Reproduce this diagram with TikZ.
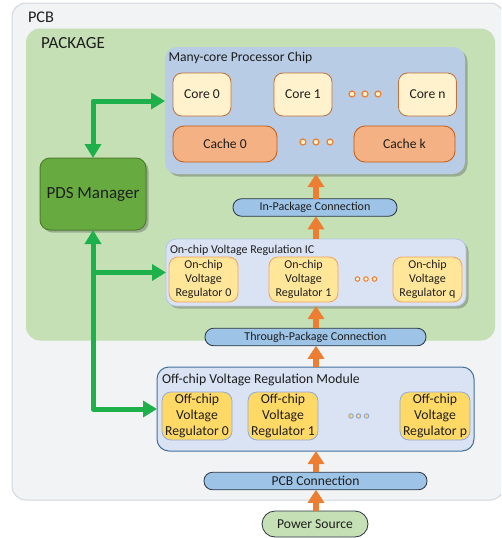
\documentclass[tikz,border=0pt]{standalone}
\usepackage{fontspec}
\setmainfont{Carlito}
\usetikzlibrary{arrows.meta,shadows}
\definecolor{pcbfill}{HTML}{F2F3F5}
\definecolor{pcbdraw}{HTML}{D3D6DB}
\definecolor{pkgfill}{HTML}{C5E0B4}
\definecolor{chipfill}{HTML}{B8CCE6}
\definecolor{corefill}{HTML}{FFF2CC}
\definecolor{coredraw}{HTML}{C0703A}
\definecolor{cachefill}{HTML}{F4B183}
\definecolor{cachedraw}{HTML}{C55A11}
\definecolor{pillfill}{HTML}{9DC3E6}
\definecolor{pilldraw}{HTML}{2B3440}
\definecolor{icfill}{HTML}{DAE3F3}
\definecolor{icdraw}{HTML}{B4C7E7}
\definecolor{vrfill}{HTML}{FFE699}
\definecolor{vrdraw}{HTML}{F4A15A}
\definecolor{moddraw}{HTML}{41719C}
\definecolor{ovrfill}{HTML}{FFD966}
\definecolor{ovrdraw}{HTML}{8FAADC}
\definecolor{pdsfill}{HTML}{66AA40}
\definecolor{pdsdraw}{HTML}{4E7F31}
\definecolor{garrowc}{HTML}{1EB04A}
\definecolor{oarrowc}{HTML}{ED7D31}
\definecolor{txt}{HTML}{1E1E1E}
\begin{document}
\begin{tikzpicture}[x=1pt,y=-1pt,
  every node/.style={inner sep=0pt,outer sep=0pt,text=txt},
  box/.style={rectangle,rounded corners=#1},
  box/.default=8pt,
  shad/.style={drop shadow={shadow xshift=2.5pt,shadow yshift=-2.5pt,opacity=0.35,fill=black!70}},
  corebox/.style={box=9pt,fill=corefill,draw=coredraw,line width=0.8pt,minimum width=58pt,minimum height=43pt,font=\fontsize{13.6}{16}\selectfont},
  cachebox/.style={box=11pt,fill=cachefill,draw=cachedraw,line width=0.8pt,minimum height=36pt,font=\fontsize{13.6}{16}\selectfont},
  pill/.style={box=8.5pt,fill=pillfill,draw=pilldraw,line width=0.8pt,minimum height=17.5pt},
  vrbox/.style={box=9pt,fill=vrfill,draw=vrdraw,line width=0.8pt,minimum width=69pt,minimum height=45pt,align=center,font=\fontsize{12}{14}\selectfont},
  ovrbox/.style={box=9pt,fill=ovrfill,draw=ovrdraw,line width=0.8pt,minimum width=70pt,minimum height=48pt,align=center,font=\fontsize{13.7}{16}\selectfont},
  title/.style={anchor=west,font=\fontsize{13.6}{16}\selectfont},
  cdot/.style={circle,fill=corefill,draw=oarrowc,line width=1.2pt,minimum size=6pt},
  odot/.style={circle,fill=ovrfill,draw=ovrdraw,line width=1pt,minimum size=4.5pt},
  garrow/.style={draw=garrowc,line width=5pt,line join=round,{Triangle[width=16pt,length=14pt]}-{Triangle[width=16pt,length=14pt]}},
  garrowone/.style={draw=garrowc,line width=5pt,line join=round,-{Triangle[width=16pt,length=14pt]}},
  oarrow/.style={draw=oarrowc,line width=5.5pt,-{Triangle[width=16pt,length=13pt]}}
]
\useasboundingbox (0,0) rectangle (501,538);
\clip (0,0) rectangle (501,538);
% PCB
\node[box=14pt,fill=pcbfill,draw=pcbdraw,line width=1pt,minimum width=492pt,minimum height=497pt] (pcb) at (258,251.5) {};
\node[anchor=west,font=\fontsize{16.3}{19}\selectfont] (pcblabel) at (28,17) {PCB};
% Package
\node[box=14pt,fill=pkgfill,minimum width=469pt,minimum height=312pt] (pkg) at (260.5,184.5) {};
\node[anchor=west,font=\fontsize{17}{20}\selectfont] (pkglabel) at (41,43) {PACKAGE};
% Chip
\node[box=12pt,fill=chipfill,shad,minimum width=300pt,minimum height=127pt] (chip) at (315,110.5) {};
\node[title] (chiptitle) at (168.5,58) {Many-core Processor Chip};
\node[corebox] (core0) at (202,94.5) {Core 0};
\node[corebox] (core1) at (303,94.5) {Core 1};
\node[corebox] (coren) at (427.5,94.5) {Core n};
\node[cdot] (cd1) at (352,94) {};
\node[cdot] (cd2) at (365,94) {};
\node[cdot] (cd3) at (378,94) {};
\node[cachebox,minimum width=104pt] (cache0) at (225,144) {Cache 0};
\node[cachebox,minimum width=101pt] (cachek) at (404.5,144) {Cache k};
\node[cdot] (kd1) at (303,142) {};
\node[cdot] (kd2) at (316,142) {};
\node[cdot] (kd3) at (330,142) {};
% In-package connection
\node[pill,minimum width=164pt,font=\fontsize{12}{14}\selectfont] (inpkg) at (315,207.5) {In-Package Connection};
% On-chip IC
\node[box=10pt,fill=icfill,draw=icdraw,line width=0.8pt,shad,minimum width=300pt,minimum height=67pt] (ic) at (316,272.5) {};
\node[anchor=west,font=\fontsize{12}{14}\selectfont] (ictitle) at (170,250) {On-chip Voltage Regulation IC};
\node[vrbox] (vr0) at (203.5,279.5) {On-chip\\Voltage\\Regulator 0};
\node[vrbox] (vr1) at (303.5,279.5) {On-chip\\Voltage\\Regulator 1};
\node[vrbox] (vrq) at (427.5,279.5) {On-chip\\Voltage\\Regulator q};
\node[cdot,minimum size=4.5pt,line width=1pt] (vd1) at (357.5,279) {};
\node[cdot,minimum size=4.5pt,line width=1pt] (vd2) at (366,279) {};
\node[cdot,minimum size=4.5pt,line width=1pt] (vd3) at (374.5,279) {};
% Through-package connection
\node[pill,minimum width=221pt,font=\fontsize{12}{14}\selectfont] (thru) at (315.5,337) {Through-Package Connection};
% Off-chip module
\node[box=12pt,fill=icfill,draw=moddraw,line width=1pt,minimum width=317pt,minimum height=84pt] (module) at (315.5,409) {};
\node[anchor=west,font=\fontsize{13.7}{16}\selectfont] (modtitle) at (162,380) {Off-chip Voltage Regulation Module};
\node[ovrbox] (ovr0) at (197,416) {Off-chip\\Voltage\\Regulator 0};
\node[ovrbox] (ovr1) at (283,416) {Off-chip\\Voltage\\Regulator 1};
\node[ovrbox] (ovrp) at (435,416) {Off-chip\\Voltage\\Regulator p};
\node[odot] (od1) at (351,416) {};
\node[odot] (od2) at (358.5,416) {};
\node[odot] (od3) at (366.5,416) {};
% PCB connection
\node[pill,minimum width=223pt,font=\fontsize{13.6}{16}\selectfont] (pcbconn) at (315.5,481) {PCB Connection};
% Power source
\node[box=13pt,fill=pkgfill,draw=pilldraw,line width=0.8pt,minimum width=106pt,minimum height=26pt,font=\fontsize{13.6}{16}\selectfont] (power) at (315,524) {Power Source};
% PDS manager
\node[box=10pt,fill=pdsfill,draw=pdsdraw,line width=1pt,shad,minimum width=106pt,minimum height=72pt,font=\fontsize{17}{20}\selectfont] (pds) at (93,194) {PDS Manager};
% green connectors
\coordinate (gchip) at (chip.west |- 0,101);
\coordinate (gbranch) at (pds.south |- ic.west);
\draw[garrow] (pds.north) |- (gchip);
\draw[garrow] (pds.south) |- (module.west);
\draw[garrowone] (gbranch) -- (ic.west);
% orange connectors
\draw[oarrow] (inpkg.north -| 316,0) -- (chip.south -| 316,0);
\draw[oarrow] (ic.north -| 316,0) -- (inpkg.south -| 316,0);
\draw[oarrow] (thru.north -| 316,0) -- (ic.south -| 316,0);
\draw[oarrow] (module.north -| 316,0) -- (thru.south -| 316,0);
\draw[oarrow] (pcbconn.north -| 316,0) -- (module.south -| 316,0);
\draw[oarrow] (power.north -| 316,0) -- (pcbconn.south -| 316,0);
\end{tikzpicture}
\end{document}
